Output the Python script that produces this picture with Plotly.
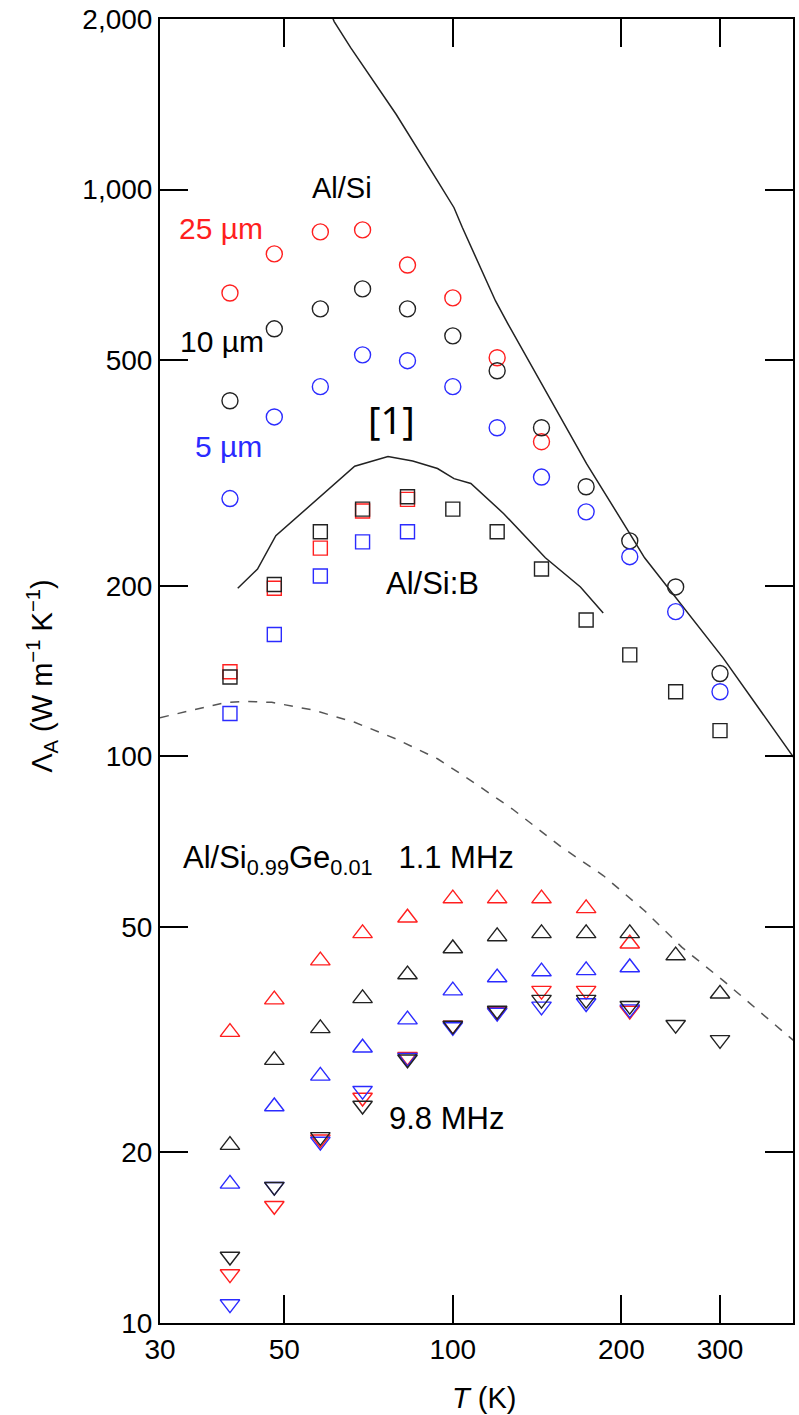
import plotly.graph_objects as go
import numpy as np

# ---------------- data ----------------
T = [40, 48, 58, 69, 83, 100, 120, 144, 173, 207, 250, 300]

# Al/Si circles
circ_25um = [657, 770, 842, 849, 736, 644, 505, 359]
circ_10um = [424, 568, 616, 668, 616, 552, 479, 380, 299, 240, 199, 140]
circ_5um = [285, 397, 449, 511, 499, 449, 380, 311, 270, 225, 180, 130]

# Al/Si:B squares
sq_black = [138, 201, 249, 273, 287, 273, 249, 214, 174, 151, 130, 111]
sq_red = [141, 198, 233, 271, 284]
sq_blue = [119, 164, 208, 239, 249]

# Al/Si0.99Ge0.01, 1.1 MHz (up triangles)
up_red = [32.6, 37.2, 43.6, 48.7, 51.9, 56.1, 56.1, 56.1, 53.9, 46.7]
up_black = [20.6, 29.1, 33.1, 37.4, 41.2, 45.8, 48.1, 48.7, 48.7, 48.7, 44.5, 38.1]
up_blue = [17.6, 24.1, 27.3, 30.6, 34.3, 38.6, 40.7, 41.7, 41.9, 42.4]

# 9.8 MHz (down triangles)
dn_black = [13.1, 17.4, 21.3, 24.2, 29.2, 33.5, 35.6, 37.2, 37.2, 36.3, 33.6, 31.6]
dn_red = [12.2, 16.1, 21.1, 25.0, 29.5, 33.5, 35.4, 38.6, 38.6, 35.6]
dn_blue = [10.8, 17.4, 20.9, 25.7, 29.4, 33.3, 35.3, 36.2, 36.7, 35.8]

# Theory curves
line_si_T = [60.5, 61.4, 65.7, 79.2, 93.9, 100.5, 104, 119.2, 125.5, 146.3, 173.4, 205.6, 220, 304, 406]
line_si_L = [2050, 1979, 1780, 1358, 1036, 929, 857, 636, 579, 441, 328, 250, 224, 149, 99.6]

line_b_T = [41.3, 44.8, 48.3, 66.8, 76.6, 84.8, 93.9, 100.5, 107.7, 123.3, 146.3, 169, 185.6]
line_b_L = [198, 214, 245, 325, 338, 332, 322, 309, 303, 268, 224, 199, 179]

dash_T = [30, 39.4, 42.9, 47.5, 56.3, 66.8, 79.2, 93.9, 107.7, 127.6, 156.5, 185.6, 220, 256.6, 304, 406]
dash_L = [117, 124.5, 125, 124.5, 120.7, 114.8, 107.3, 99, 90.6, 80.8, 69.1, 61.6, 53.4, 46, 40.2, 31.5]

x_tickvals = [30, 50, 100, 200, 300]
x_ticktext = ["30", "50", "100", "200", "300"]
y_tickvals = [10, 20, 50, 100, 200, 500, 1000, 2000]
y_ticktext = ["10", "20", "50", "100", "200", "500", "1,000", "2,000"]

# ---------------- styles ----------------
RED = "#ff1f1f"
BLUE = "#2b2bff"
BLACK = "#222222"
FONT = "Liberation Sans, Arial, sans-serif"

W, H = 799, 1415
L_M, R_M, T_M, B_M = 160, 4, 18, 92
PW = W - L_M - R_M
PH = H - T_M - B_M


def px(x, y):
    return (x - L_M) / PW, (H - B_M - y) / PH


fig = go.Figure()

fig.add_trace(go.Scatter(x=line_si_T, y=line_si_L, mode="lines",
                         line=dict(color=BLACK, width=1.5), showlegend=False))
fig.add_trace(go.Scatter(x=line_b_T, y=line_b_L, mode="lines",
                         line=dict(color=BLACK, width=1.5), showlegend=False))
fig.add_trace(go.Scatter(x=dash_T, y=dash_L, mode="lines",
                         line=dict(color="#555555", width=1.5, dash="dash"), showlegend=False))


def add_markers(xs, ys, symbol, color, size):
    fig.add_trace(go.Scatter(x=xs[:len(ys)], y=ys, mode="markers",
                             marker=dict(symbol=symbol, size=size, color=color,
                                         line=dict(color=color, width=1.4)),
                             showlegend=False, cliponaxis=False))


add_markers(T, circ_25um, "circle-open", RED, 16)
add_markers(T, circ_10um, "circle-open", BLACK, 16)
add_markers(T, circ_5um, "circle-open", BLUE, 16)

add_markers(T, sq_red, "square-open", RED, 14)
add_markers(T, sq_blue, "square-open", BLUE, 14)
add_markers(T, sq_black, "square-open", BLACK, 14)

add_markers(T, up_red, "triangle-up-open", RED, 17)
add_markers(T, up_black, "triangle-up-open", BLACK, 17)
add_markers(T, up_blue, "triangle-up-open", BLUE, 17)

add_markers(T, dn_red, "triangle-down-open", RED, 17)
add_markers(T, dn_blue, "triangle-down-open", BLUE, 17)
add_markers(T, dn_black, "triangle-down-open", BLACK, 17)

axis_common = dict(
    type="log", showgrid=False, zeroline=False,
    showline=True, linecolor="black", linewidth=2, mirror="ticks",
    ticks="inside", ticklen=28, tickwidth=1.5, tickcolor="black",
    tickfont=dict(family=FONT, size=28, color="black"),
)

fig.update_layout(
    width=W, height=H,
    margin=dict(l=L_M, r=R_M, t=T_M, b=B_M),
    paper_bgcolor="white", plot_bgcolor="white",
    xaxis=dict(range=[np.log10(30), np.log10(405)], tickvals=x_tickvals,
               ticktext=x_ticktext, **axis_common),
    yaxis=dict(range=[1, np.log10(2000)], tickvals=y_tickvals,
               ticktext=y_ticktext, **axis_common),
)


def label(text, x, y, color="black", size=30, xanchor="center", family=FONT, angle=0):
    ax, ay = px(x, y)
    fig.add_annotation(text=text, x=ax, y=ay, xref="paper", yref="paper",
                       xanchor=xanchor, yanchor="middle", showarrow=False,
                       textangle=angle, font=dict(family=family, size=size, color=color))


label("Al/Si", 310, 187, xanchor="left", size=29)
label("25 µm", 177, 228, color=RED, xanchor="left")
label("10 µm", 178, 341, xanchor="left")
label("5 µm", 193, 446, color=BLUE, xanchor="left")
label("[1]", 392, 418, size=38, family="Noto Sans, DejaVu Sans, sans-serif")
label("Al/Si:B", 385, 583, xanchor="left", size=31)
label("Al/Si<sub>0.99</sub>Ge<sub>0.01</sub>&nbsp;&nbsp; 1.1 MHz", 181, 860, xanchor="left", size=31)
label("9.8 MHz", 388, 1118, xanchor="left", size=31)

label("Λ<sub>A</sub> (W m<sup>−1</sup> K<sup>−1</sup>)", 42, 675, size=29, angle=-90)
label("<i>T</i> (K)", 485, 1398, size=29)

fig.write_html("out.html")
